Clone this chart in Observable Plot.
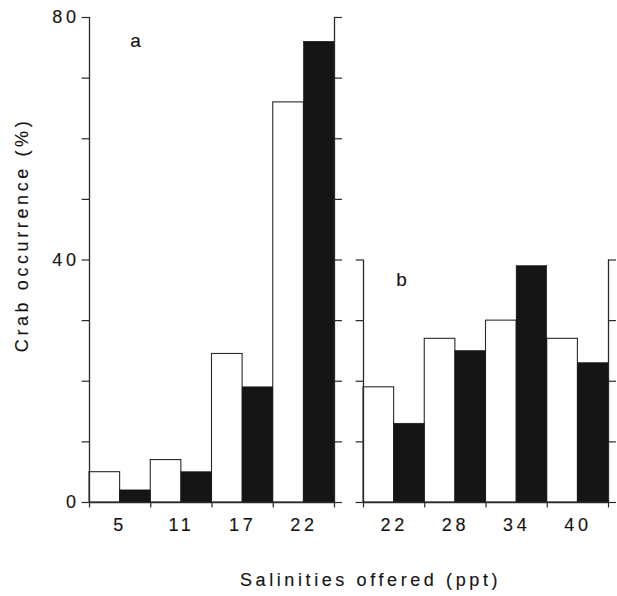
<!DOCTYPE html>
<html><head><meta charset="utf-8">
<script src="https://cdn.jsdelivr.net/npm/d3@7"></script>
<script src="https://cdn.jsdelivr.net/npm/@observablehq/plot@0.6"></script>
<style>body{margin:0;background:#fff}#chart{width:617px;height:596px}</style>
</head><body><div id="chart"></div>
<script>
// ---- data ----
const panels = ["a", "b"];
const panelTop = [80, 40];
const salinitiesA = ["5", "11", "17", "22"];
const salinitiesB = ["22", "28", "34", "40"];
const openA = [5, 7, 24.5, 66];
const filledA = [2, 5, 19, 76];
const openB = [19, 27, 30, 27];
const filledB = [13, 25, 39, 23];
const yTickLabels = [0, 40, 80];
const yTickStep = 10;
const yTitle = "Crab occurrence (%)";
const xTitle = "Salinities offered (ppt)";

// ---- tables built from the arrays ----
const cats = {a: salinitiesA, b: salinitiesB};
const opens = {a: openA, b: openB};
const filleds = {a: filledA, b: filledB};
const panelRows = panels.map((p, k) => ({panel: p, top: panelTop[k]}));
const bars = [];
const catRows = [];
const boundaryRows = [];
const yTickRows = [];
for (const {panel, top} of panelRows) {
  cats[panel].forEach((label, i) => {
    catRows.push({panel, i, label});
    bars.push({panel, i, group: "open", value: opens[panel][i]});
    bars.push({panel, i, group: "filled", value: filleds[panel][i]});
  });
  for (let b = 0; b <= cats[panel].length; b++) boundaryRows.push({panel, b});
  for (let v = 0; v <= top; v += yTickStep) yTickRows.push({panel, v});
}
const yLabelRows = yTickLabels.map(v => ({panel: "a", v}));
const n = salinitiesA.length;

const FONT = "Liberation Sans, Arial, Helvetica, sans-serif";
const FS = 18;
const INK = "#141414";
const LINE = "#2a2a2a";
const TXT = {fontFamily: FONT, fontSize: FS, fill: INK, stroke: INK, strokeWidth: 0.15};

const chart = Plot.plot({
  width: 617,
  height: 596,
  marginLeft: 89,
  marginRight: 8,
  marginTop: 17,
  marginBottom: 94,
  style: {background: "#fff", letterSpacing: "3.6px", color: INK},
  fx: {domain: panels, paddingInner: 0.1056, paddingOuter: 0, axis: null, label: null},
  x: {domain: [0, n], axis: null},
  y: {domain: [0, 80], axis: null},
  marks: [
    // bars
    Plot.rectY(bars.filter(d => d.group === "open"), {
      fx: "panel", x1: d => d.i, x2: d => d.i + 0.5, y1: 0, y2: "value",
      fill: "#fff", stroke: LINE, strokeWidth: 1.1
    }),
    Plot.rectY(bars.filter(d => d.group === "filled"), {
      fx: "panel", x1: d => d.i + 0.5, x2: d => d.i + 1, y1: 0, y2: "value",
      fill: "#151515", stroke: "#151515", strokeWidth: 0.5
    }),
    // axis frame lines
    Plot.ruleX(panelRows, {fx: "panel", x: 0, y1: 0, y2: "top", stroke: LINE, strokeWidth: 1.3}),
    Plot.ruleX(panelRows, {fx: "panel", x: n, y1: 0, y2: "top", stroke: LINE, strokeWidth: 1.3}),
    Plot.ruleY(panelRows, {fx: "panel", y: 0, x1: 0, x2: n, stroke: LINE, strokeWidth: 1.3}),
    // y ticks, left (outward) and right (outward)
    Plot.ruleY(yTickRows, {fx: "panel", y: "v", x1: -0.12, x2: 0, stroke: LINE, strokeWidth: 1.2}),
    Plot.ruleY(yTickRows, {fx: "panel", y: "v", x1: n, x2: n + 0.13, stroke: LINE, strokeWidth: 1.2}),
    // x ticks at category boundaries
    Plot.ruleX(boundaryRows, {fx: "panel", x: "b", y1: 0, y2: -0.9, stroke: LINE, strokeWidth: 1.2}),
    // x tick labels
    Plot.text(catRows, {fx: "panel", x: d => d.i + 0.5, y: 0, dy: 23, text: "label", ...TXT}),
    // y tick labels
    Plot.text(yLabelRows, {
      fx: "panel", x: 0, y: "v", dx: -10, textAnchor: "end", text: d => String(d.v), ...TXT
    }),
    // panel letters
    Plot.text(panelRows, {
      fx: "panel", x: d => (d.panel === "a" ? 0.78 : 0.65), y: d => d.top - (d.panel === "a" ? 3.9 : 3.3),
      text: "panel", ...TXT, fontSize: FS + 1
    }),
    // y title
    Plot.text([{panel: "a", text: yTitle}], {
      fx: "panel", frameAnchor: "left", textAnchor: "middle", dx: -67, dy: -25, rotate: -90, text: "text", ...TXT
    }),
    // x title
    Plot.text([{panel: "b", text: xTitle}], {
      fx: "panel", x: 0, y: 0, dx: 7, dy: 78, text: "text", ...TXT
    })
  ]
});
document.getElementById("chart").append(chart);
</script>
</body></html>
